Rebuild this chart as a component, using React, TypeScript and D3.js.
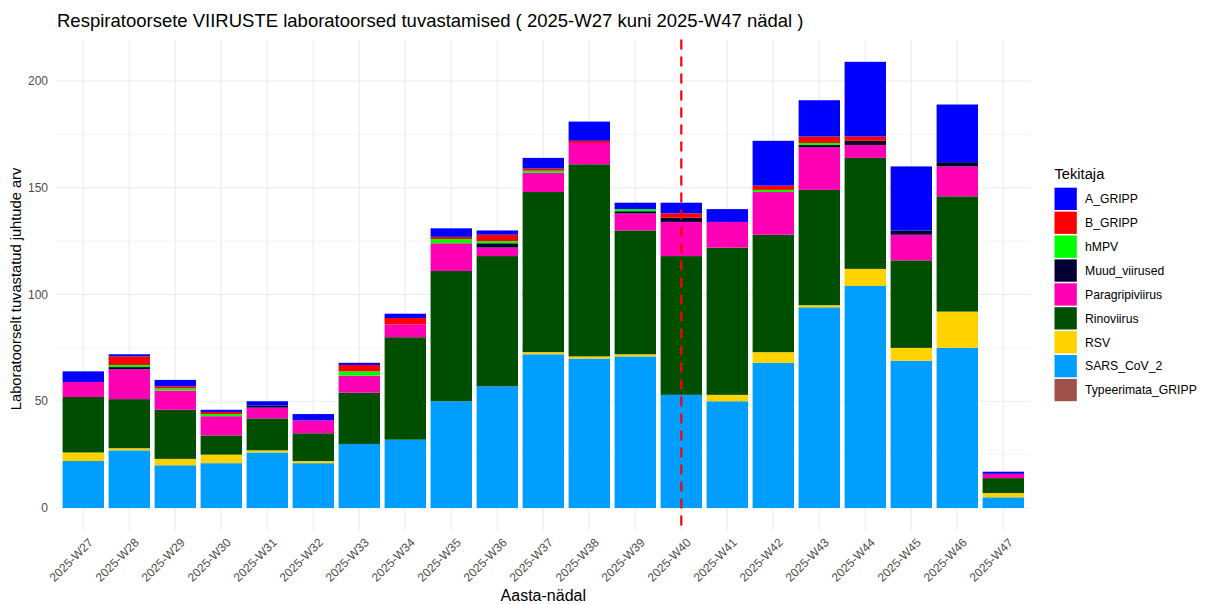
import React from "react";
import * as d3 from "d3";

const weeks = ["2025-W27","2025-W28","2025-W29","2025-W30","2025-W31","2025-W32","2025-W33","2025-W34","2025-W35","2025-W36","2025-W37","2025-W38","2025-W39","2025-W40","2025-W41","2025-W42","2025-W43","2025-W44","2025-W45","2025-W46","2025-W47"];

// legend order (top of stack first)
const seriesNames = ["A_GRIPP","B_GRIPP","hMPV","Muud_viirused","Paragripiviirus","Rinoviirus","RSV","SARS_CoV_2","Typeerimata_GRIPP"];
const seriesColors = ["#0000FF","#FF0000","#00FF00","#000033","#FF00B4","#004F00","#FFD200","#009FFF","#A0524A"];

const A_GRIPP =          [5,1,3,1,2,3,1,2,4,2,5,9,3,5,6,21,17,35,30,27,1];
const B_GRIPP =          [0,4,1,1,0,0,3,3,1,3,1,1,0,2,0,2,3,2,0,0,0];
const hMPV =             [0,1,1,1,0,0,2,0,2,1,1,0,1,0,0,1,1,0,0,0,0];
const Muud_viirused =    [0,1,0,0,1,0,0,0,0,2,0,0,1,2,0,0,1,2,2,2,0];
const Paragripiviirus =  [7,14,9,9,5,6,8,6,13,4,9,10,8,16,12,20,20,6,12,14,2];
const Rinoviirus =       [26,23,23,9,15,13,24,48,61,61,75,90,58,65,69,55,54,52,41,54,7];
const RSV =              [4,1,3,4,1,1,0,0,0,0,1,1,1,0,3,5,1,8,6,17,2];
const SARS_CoV_2 =       [22,27,20,21,26,21,30,32,50,57,72,70,71,53,50,68,94,104,69,75,5];
const Typeerimata_GRIPP =[0,0,0,0,0,0,0,0,0,0,0,0,0,0,0,0,0,0,0,0,0];

const yTicks = [0, 50, 100, 150, 200];
const yMinor = [25, 75, 125, 175];
const markerWeek = "2025-W40";

const titleText = "Respiratoorsete VIIRUSTE laboratoorsed tuvastamised ( 2025-W27 kuni 2025-W47 nädal )";
const yTitle = "Laboratoorselt tuvastatud juhtude arv";
const xTitle = "Aasta-nädal";
const legendTitle = "Tekitaja";

const FONT = "'Liberation Sans', Arial, sans-serif";

export default function App() {
  const W = 1205, H = 604;
  const panel = { left: 55.7, right: 1030.9, top: 39.5, bottom: 530.3 };

  const valuesByName: Record<string, number[]> = {
    A_GRIPP, B_GRIPP, hMPV, Muud_viirused, Paragripiviirus, Rinoviirus, RSV, SARS_CoV_2, Typeerimata_GRIPP,
  };
  const rows = weeks.map((w, i) => {
    const r: any = { week: w };
    seriesNames.forEach((n) => (r[n] = valuesByName[n][i]));
    return r;
  });
  const stackKeys = [...seriesNames].reverse();
  const stacked = d3.stack<any>().keys(stackKeys)(rows);
  const maxTotal = d3.max(rows, (r) => d3.sum(seriesNames, (n) => r[n])) as number;
  const pad = maxTotal * 0.05;

  const x = d3.scaleBand<string>().domain(weeks).range([panel.left, panel.right]).paddingInner(0.1).paddingOuter(0.15);
  const y = d3.scaleLinear().domain([-pad, maxTotal + pad]).range([panel.bottom, panel.top]);
  const color = d3.scaleOrdinal<string, string>().domain(seriesNames).range(seriesColors);

  const markerX = (x(markerWeek) as number) + x.bandwidth() / 2;

  const legendX = 1054.5, legendY0 = 187.7, keyStep = 23.9, keySize = 22.3;

  return (
    <svg width={W} height={H} style={{ position: "absolute", left: 0, top: 0, background: "#fff" }} fontFamily={FONT}>
      <rect x={0} y={0} width={W} height={H} fill="#fff" />
      {yMinor.map((t) => (
        <line key={"mi" + t} x1={panel.left} x2={panel.right} y1={y(t)} y2={y(t)} stroke="#EBEBEB" strokeWidth={0.55} />
      ))}
      {yTicks.map((t) => (
        <line key={"ma" + t} x1={panel.left} x2={panel.right} y1={y(t)} y2={y(t)} stroke="#EBEBEB" strokeWidth={1.1} />
      ))}
      {weeks.map((w) => {
        const cx = (x(w) as number) + x.bandwidth() / 2;
        return <line key={"vg" + w} x1={cx} x2={cx} y1={panel.top} y2={panel.bottom} stroke="#EBEBEB" strokeWidth={1.1} />;
      })}
      {stacked.map((layer) => (
        <g key={layer.key} fill={color(layer.key)}>
          {layer.map((d, i) =>
            d[1] - d[0] > 0 ? (
              <rect key={i} x={x(weeks[i])} width={x.bandwidth()} y={y(d[1])} height={y(d[0]) - y(d[1])} />
            ) : null
          )}
        </g>
      ))}
      <line x1={markerX} x2={markerX} y1={panel.top} y2={panel.bottom} stroke="#FF0000" strokeWidth={2.2} strokeDasharray="10,7" />
      {yTicks.map((t) => (
        <text key={"yl" + t} x={48} y={y(t)} dy="0.35em" textAnchor="end" fontSize={12} fill="#4D4D4D">{t}</text>
      ))}
      {weeks.map((w) => {
        const cx = (x(w) as number) + x.bandwidth() / 2;
        return (
          <text key={"xl" + w} transform={`translate(${cx + 4},${537}) rotate(-45)`} textAnchor="end" dy="0.75em" fontSize={12} fill="#4D4D4D">{w}</text>
        );
      })}
      <text x={57} y={27} fontSize={18.5} fill="#000">{titleText}</text>
      <text x={(panel.left + panel.right) / 2} y={601} textAnchor="middle" fontSize={16} fill="#000">{xTitle}</text>
      <text transform={`translate(${21},${(panel.top + panel.bottom) / 2 + 4}) rotate(-90)`} textAnchor="middle" fontSize={14.7} fill="#000">{yTitle}</text>
      <text x={legendX} y={179} fontSize={14.7} fill="#000">{legendTitle}</text>
      {seriesNames.map((n, i) => (
        <g key={"lg" + n}>
          <rect x={legendX} y={legendY0 + i * keyStep} width={keySize} height={keySize} fill={color(n)} />
          <text x={1085} y={legendY0 + i * keyStep + keySize / 2} dy="0.35em" fontSize={12.2} fill="#000">{n}</text>
        </g>
      ))}
    </svg>
  );
}
